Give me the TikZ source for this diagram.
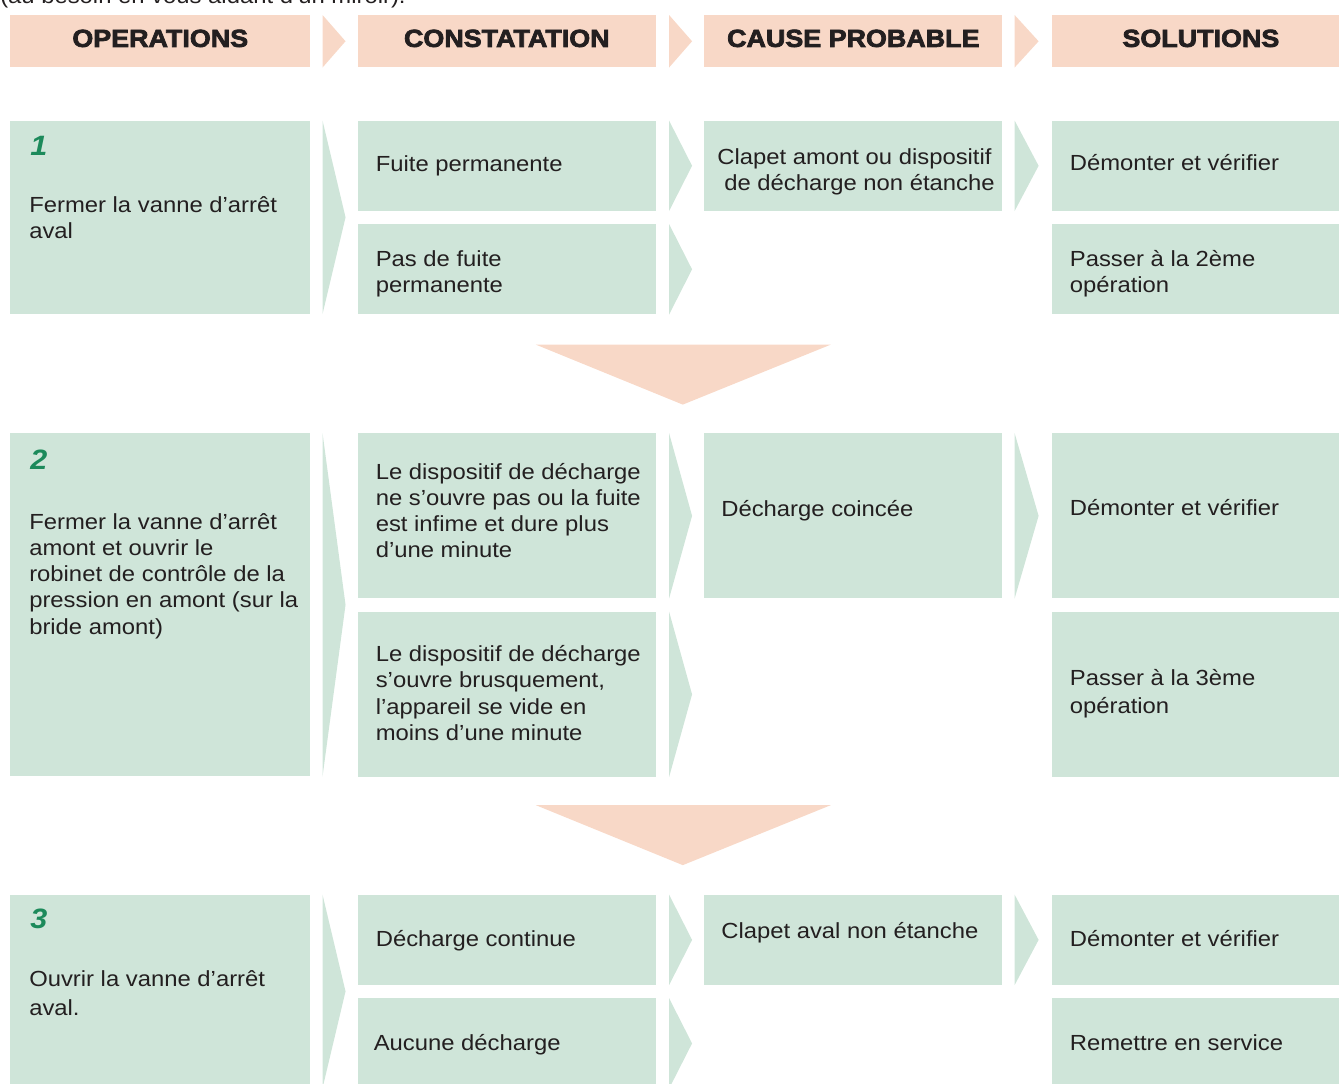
\documentclass[tikz,border=0pt]{standalone}
\usepackage{fontspec}
\setmainfont[FakeStretch=1.09]{Liberation Sans}
\newfontfamily\grasfont[FakeStretch=1.09, BoldFeatures={FakeBold=3}]{Liberation Sans}
\usepackage{xcolor}
\usepackage{tikz}
\usetikzlibrary{positioning, calc}
\definecolor{vert}{HTML}{CFE5D9}
\definecolor{peche}{HTML}{F8D8C7}
\definecolor{vertfonce}{HTML}{1C8A5B}
\definecolor{encre}{HTML}{231F20}
\newcommand{\corps}{\fontsize{16.4}{19.7}\selectfont}
\tikzstyle{entete} = [rectangle, fill=peche, minimum width=223.5pt, minimum height=39pt, inner sep=0pt, text=encre, font=\grasfont\fontsize{18.5}{20}\selectfont\bfseries]
\tikzstyle{case} = [rectangle, fill=vert, minimum width=223.5pt, inner sep=0pt]
\tikzstyle{texte} = [anchor=base west, align=left, inner sep=0pt, text=encre, font=\corps]
\tikzstyle{numero} = [anchor=base west, inner sep=0pt, text=vertfonce, font=\grasfont\fontsize{21}{21}\selectfont\bfseries\itshape]
\tikzstyle{pointe} = [fill=vert]
\tikzstyle{pointeh} = [fill=peche]

\begin{document}
\begin{tikzpicture}[x=0.75pt, y=-0.75pt]
				\useasboundingbox (0,0) rectangle (1339,1083);
				
				\node (note) [texte] at (0,3) {(au besoin en vous aidant d’un miroir).};
				
				% en-tetes
				\node (hop) [entete, anchor=north west, minimum width=225pt] at (10,15) {\raisebox{4.5pt}{OPERATIONS}};
				\node (hcon) [entete, right=35.25pt of hop] {\raisebox{4.5pt}{CONSTATATION}};
				\node (hcau) [entete, right=36pt of hcon] {\raisebox{4.5pt}{CAUSE PROBABLE}};
				\node (hsol) [entete, right=36.75pt of hcau] {\raisebox{4.5pt}{SOLUTIONS}};
				
				% operation 1
				\node (op1) [case, minimum width=225pt, minimum height=144.75pt, below=39.75pt of hop] {};
				\node (con1a) [case, minimum height=67.5pt, below right=0pt and 35.25pt of op1.north east] {};
				\node (con1b) [case, minimum height=67.5pt, below=9.75pt of con1a] {};
				\node (cau1) [case, minimum height=67.5pt, right=36pt of con1a] {};
				\node (sol1a) [case, minimum height=67.5pt, right=36.75pt of cau1] {};
				\node (sol1b) [case, minimum height=67.5pt, below=9.75pt of sol1a] {};
				
				% operation 2
				\node (op2) [case, minimum width=225pt, minimum height=257.25pt, below=89.25pt of op1] {};
				\node (con2a) [case, minimum height=123.75pt, below right=0pt and 35.25pt of op2.north east] {};
				\node (con2b) [case, minimum height=123.75pt, below=9.75pt of con2a] {};
				\node (cau2) [case, minimum height=123.75pt, right=36pt of con2a] {};
				\node (sol2a) [case, minimum height=123.75pt, right=36.75pt of cau2] {};
				\node (sol2b) [case, minimum height=123.75pt, below=9.75pt of sol2a] {};
				
				% operation 3
				\node (op3) [case, minimum width=225pt, minimum height=144.75pt, below=88.5pt of op2] {};
				\node (con3a) [case, minimum height=67.5pt, below right=0pt and 35.25pt of op3.north east] {};
				\node (con3b) [case, minimum height=67.5pt, below=9.75pt of con3a] {};
				\node (cau3) [case, minimum height=67.5pt, right=36pt of con3a] {};
				\node (sol3a) [case, minimum height=67.5pt, right=36.75pt of cau3] {};
				\node (sol3b) [case, minimum height=67.5pt, below=9.75pt of sol3a] {};
				
				% textes (base = derniere ligne)
				\node (nop1) [numero] at ($(op1.north west)+(20,35)$) {1};
				\node (top1) [texte] at ($(op1.north west)+(19,118.3)$) {Fermer la vanne d’arrêt\\aval};
				\node (tcon1a) [texte] at ($(con1a.north west)+(18,51)$) {Fuite permanente};
				\node (tcon1b) [texte] at ($(con1b.north west)+(18,68.3)$) {Pas de fuite\\permanente};
				\node (tcau1) [texte] at ($(cau1.north west)+(13,70.3)$) {Clapet amont ou dispositif\\\hspace*{5.25pt}de décharge non étanche};
				\node (tsol1a) [texte] at ($(sol1a.north west)+(18,50)$) {Démonter et vérifier};
				\node (tsol1b) [texte] at ($(sol1b.north west)+(18,68.3)$) {Passer à la 2ème\\opération};
				
				\node (nop2) [numero] at ($(op2.north west)+(20,36)$) {2};
				\node (top2) [texte] at ($(op2.north west)+(19,201.1)$) {Fermer la vanne d’arrêt\\amont et ouvrir le\\robinet de contrôle de la\\pression en amont (sur la\\bride amont)};
				\node (tcon2a) [texte] at ($(con2a.north west)+(18,124.8)$) {Le dispositif de décharge\\ne s’ouvre pas ou la fuite\\est infime et dure plus\\d’une minute};
				\node (tcon2b) [texte] at ($(con2b.north west)+(18,128.8)$) {Le dispositif de décharge\\s’ouvre brusquement,\\l’appareil se vide en\\moins d’une minute};
				\node (tcau2) [texte] at ($(cau2.north west)+(17,83)$) {Décharge coincée};
				\node (tsol2a) [texte] at ($(sol2a.north west)+(18,82)$) {Démonter et vérifier};
				\node (tsol2b) [texte, font=\fontsize{16.4}{21}\selectfont] at ($(sol2b.north west)+(18,102)$) {Passer à la 3ème\\opération};
				
				\node (nop3) [numero] at ($(op3.north west)+(20,34)$) {3};
				\node (top3) [texte, font=\fontsize{16.4}{21.4}\selectfont] at ($(op3.north west)+(19,120.5)$) {Ouvrir la vanne d’arrêt\\aval.};
				\node (tcon3a) [texte] at ($(con3a.north west)+(18,52)$) {Décharge continue};
				\node (tcon3b) [texte] at ($(con3b.north west)+(16,52)$) {Aucune décharge};
				\node (tcau3) [texte] at ($(cau3.north west)+(17,44)$) {Clapet aval non étanche};
				\node (tsol3a) [texte] at ($(sol3a.north west)+(18,52)$) {Démonter et vérifier};
				\node (tsol3b) [texte] at ($(sol3b.north west)+(18,52)$) {Remettre en service};
				
				% fleches
				\fill [pointeh] ($(hop.north east)+(12,0)$) -- ($(hop.east)+(35,0)$) -- ($(hop.south east)+(12,0)$) -- cycle;
				\fill [pointeh] ($(hcon.north east)+(13,0)$) -- ($(hcon.east)+(36,0)$) -- ($(hcon.south east)+(13,0)$) -- cycle;
				\fill [pointeh] ($(hcau.north east)+(12,0)$) -- ($(hcau.east)+(36,0)$) -- ($(hcau.south east)+(12,0)$) -- cycle;
				
				\fill [pointe] ($(op1.north east)+(12,0)$) -- ($(op1.east)+(35,0)$) -- ($(op1.south east)+(12,0)$) -- cycle;
				\fill [pointe] ($(con1a.north east)+(13,0)$) -- ($(con1a.east)+(36,0)$) -- ($(con1a.south east)+(13,0)$) -- cycle;
				\fill [pointe] ($(con1b.north east)+(13,0)$) -- ($(con1b.east)+(36,0)$) -- ($(con1b.south east)+(13,0)$) -- cycle;
				\fill [pointe] ($(cau1.north east)+(12,0)$) -- ($(cau1.east)+(36,0)$) -- ($(cau1.south east)+(12,0)$) -- cycle;
				
				\fill [pointe] ($(op2.north east)+(12,0)$) -- ($(op2.east)+(35,0)$) -- ($(op2.south east)+(12,0)$) -- cycle;
				\fill [pointe] ($(con2a.north east)+(13,0)$) -- ($(con2a.east)+(36,0)$) -- ($(con2a.south east)+(13,0)$) -- cycle;
				\fill [pointe] ($(con2b.north east)+(13,0)$) -- ($(con2b.east)+(36,0)$) -- ($(con2b.south east)+(13,0)$) -- cycle;
				\fill [pointe] ($(cau2.north east)+(12,0)$) -- ($(cau2.east)+(36,0)$) -- ($(cau2.south east)+(12,0)$) -- cycle;
				
				\fill [pointe] ($(op3.north east)+(12,0)$) -- ($(op3.east)+(35,0)$) -- ($(op3.south east)+(12,0)$) -- cycle;
				\fill [pointe] ($(con3a.north east)+(13,0)$) -- ($(con3a.east)+(36,0)$) -- ($(con3a.south east)+(13,0)$) -- cycle;
				\fill [pointe] ($(con3b.north east)+(13,0)$) -- ($(con3b.east)+(36,0)$) -- ($(con3b.south east)+(13,0)$) -- cycle;
				\fill [pointe] ($(cau3.north east)+(12,0)$) -- ($(cau3.east)+(36,0)$) -- ($(cau3.south east)+(12,0)$) -- cycle;
				
				\fill [pointeh] ($(con1b.south)+(29,30)$) -- ($(con1b.south)+(324,30)$) -- ($(con1b.south)+(176,90)$) -- cycle;
				\fill [pointeh] ($(con2b.south)+(29,28)$) -- ($(con2b.south)+(324,28)$) -- ($(con2b.south)+(176,88)$) -- cycle;
				
				\end{tikzpicture}
\end{document}
